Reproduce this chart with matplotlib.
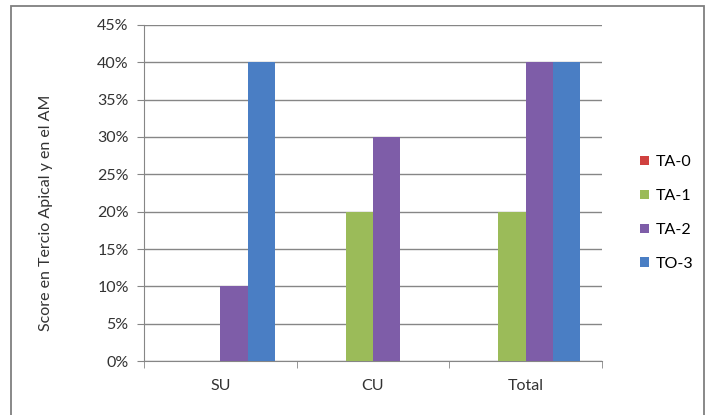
import numpy as np
import matplotlib.pyplot as plt
from matplotlib.patches import Rectangle
from matplotlib.ticker import PercentFormatter

plt.rcParams['font.family'] = ['Lato', 'DejaVu Sans']

categories = ['SU', 'CU', 'Total']
series_names = ['TA-0', 'TA-1', 'TA-2', 'TO-3']
values = {
    'TA-0': [0, 0, 0],
    'TA-1': [0, 20, 20],
    'TA-2': [10, 30, 40],
    'TO-3': [40, 0, 40],
}
colors = ['#D0413F', '#9BBB59', '#7E5DA8', '#4A7EC4']

W, H = 710, 415
fig = plt.figure(figsize=(W / 100, H / 100), dpi=100)
fig.patches.append(Rectangle((11 / W, -0.02), (704 - 11) / W, (415 - 6) / H + 0.02,
                             transform=fig.transFigure, fill=False,
                             edgecolor='#7f7f7f', lw=1.3))
ax = fig.add_axes([144 / W, (H - 361) / H, (602 - 144) / W, (361 - 25) / H])

x = np.arange(len(categories))
bw = 0.178
for i, name in enumerate(series_names):
    ax.bar(x + (i - 1.5) * bw, values[name], width=bw, color=colors[i],
           label=name, zorder=3)

grid_c = '#868686'
txt_c = '#333333'
fs = 11.5
ax.set_xlim(-0.5, 2.5)
ax.set_ylim(0, 45)
ax.set_yticks(np.arange(0, 46, 5))
ax.yaxis.set_major_formatter(PercentFormatter(decimals=0))
ax.yaxis.grid(True, color=grid_c, lw=1, zorder=0)
ax.set_xticks(x)
ax.set_xticklabels(categories)
ax.set_xticks([-0.5, 0.5, 1.5, 2.5], minor=True)
ax.tick_params(axis='x', which='major', length=0, pad=13, labelsize=fs, colors=txt_c)
ax.tick_params(axis='x', which='minor', length=5, color=grid_c, direction='out')
ax.tick_params(axis='y', length=5, color=grid_c, pad=6, labelsize=fs, colors=txt_c)
for s in ['top', 'right']:
    ax.spines[s].set_visible(False)
for s in ['left', 'bottom']:
    ax.spines[s].set_color(grid_c)

fig.text(46 / W, 1 - 213 / H, 'Score en Tercio Apical y en el AM', rotation=90,
         ha='center', va='center', fontsize=fs, color=txt_c)

ax.legend(loc='center left', bbox_to_anchor=(626 / W, 1 - 213 / H),
          bbox_transform=fig.transFigure, frameon=False, fontsize=fs,
          handlelength=0.55, handleheight=0.55, handletextpad=0.4, labelspacing=1.25)

fig.savefig('out.png', dpi=100)
